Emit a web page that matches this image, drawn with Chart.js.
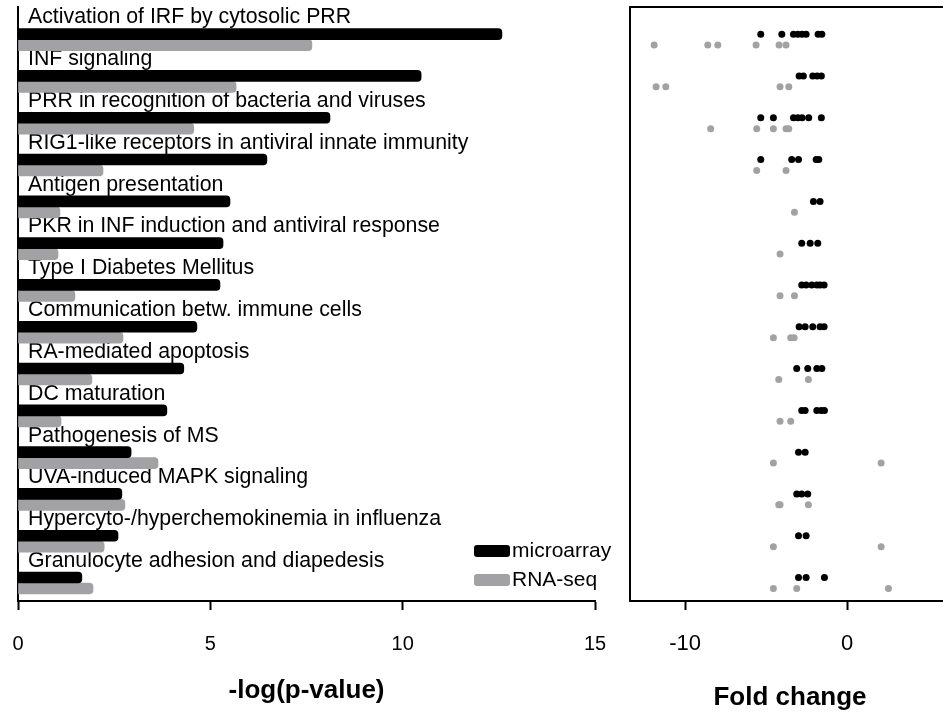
<!DOCTYPE html>
<html>
<head>
<meta charset="utf-8">
<script src="https://cdn.jsdelivr.net/npm/chart.js@4"></script>
<style>
html, body { margin: 0; padding: 0; background: #fff; overflow: hidden; }
#wrap { position: relative; width: 943px; height: 715px; overflow: hidden; }
#left { position: absolute; left: 0; top: 0; }
#right { position: absolute; left: 620px; top: 0; }
</style>
</head>
<body>
<div id="wrap">
  <canvas id="left" width="620" height="715"></canvas>
  <canvas id="right" width="340" height="715"></canvas>
</div>
<script>
const pathways = [
  'Activation of IRF by cytosolic PRR',
  'INF signaling',
  'PRR in recognition of bacteria and viruses',
  'RIG1-like receptors in antiviral innate immunity',
  'Antigen presentation',
  'PKR in INF induction and antiviral response',
  'Type I Diabetes Mellitus',
  'Communication betw. immune cells',
  'RA-mediated apoptosis',
  'DC maturation',
  'Pathogenesis of MS',
  'UVA-induced MAPK signaling',
  'Hypercyto-/hyperchemokinemia in influenza',
  'Granulocyte adhesion and diapedesis'
];

// -log(p-value) per pathway
const microarrayP = [12.58, 10.48, 8.11, 6.47, 5.51, 5.33, 5.25, 4.65, 4.31, 3.87, 2.94, 2.70, 2.60, 1.66];
const rnaseqP = [7.64, 5.67, 4.57, 2.21, 1.09, 1.04, 1.48, 2.73, 1.92, 1.12, 3.64, 2.78, 2.24, 1.95];

// fold change of the genes in each pathway
const microarrayFC = [
  [-5.33, -4.03, -3.31, -3.04, -2.78, -2.53, -1.79, -1.56],
  [-2.96, -2.70, -2.12, -1.85, -1.59],
  [-5.33, -4.55, -3.31, -3.04, -2.78, -2.37, -1.59],
  [-5.33, -3.42, -3.00, -1.91, -1.75],
  [-2.08, -1.67],
  [-2.80, -2.28, -1.81],
  [-2.80, -2.53, -2.18, -1.87, -1.67, -1.42],
  [-2.96, -2.59, -2.12, -1.67, -1.42],
  [-3.11, -2.43, -1.87, -1.56],
  [-2.80, -2.59, -1.87, -1.60, -1.40],
  [-3.00, -2.59],
  [-3.11, -2.80, -2.43],
  [-3.00, -2.53],
  [-3.00, -2.53, -1.40]
];
const rnaseqFC = [
  [-11.91, -8.60, -7.98, -5.62, -4.20, -3.77],
  [-11.79, -11.19, -4.14, -3.60],
  [-8.42, -5.58, -4.55, -3.77, -3.60],
  [-5.58, -3.77],
  [-3.25],
  [-4.14],
  [-4.14, -3.25],
  [-4.55, -3.48, -3.27],
  [-4.22, -2.39],
  [-4.14, -3.48],
  [-4.55, 2.10],
  [-4.22, -4.14, -2.39],
  [-4.55, 2.10],
  [-4.55, -3.11, 2.55]
];

const pTicks = [0, 5, 10, 15];
const fcTicks = [-10, 0];

const BLACK = '#000000';
const GREY = '#a2a2a4';
const FONT = "'Liberation Sans', Arial, Helvetica, sans-serif";
Chart.defaults.font.family = FONT;
Chart.defaults.color = BLACK;

// both panels share the same row scale
const rowMin = -0.78, rowMax = 13.43;
const dotShift = 0.13;

function noPad(s) {
  s.paddingLeft = 0; s.paddingRight = 0; s.paddingTop = 0; s.paddingBottom = 0;
}

const legendInside = {
  id: 'legendInside',
  afterDraw(chart) {
    const {ctx, chartArea} = chart;
    ctx.save();
    ctx.font = '21px ' + FONT;
    ctx.textBaseline = 'middle';
    chart.data.datasets.forEach((ds, i) => {
      const x = chartArea.right - 121;
      const y = chartArea.bottom - 50 + i * 29;
      ctx.fillStyle = ds.backgroundColor;
      ctx.beginPath();
      if (ctx.roundRect) ctx.roundRect(x, y - 6, 36, 12, 3);
      else ctx.rect(x, y - 6, 36, 12);
      ctx.fill();
      ctx.fillStyle = BLACK;
      ctx.fillText(ds.label, x + 38, y);
    });
    ctx.restore();
  }
};

new Chart(document.getElementById('left'), {
  type: 'bar',
  data: {
    datasets: [{
      label: 'microarray',
      data: microarrayP.map((v, i) => ({x: v, y: i})),
      backgroundColor: BLACK,
      barThickness: 11,
      borderRadius: 4,
      borderSkipped: 'start'
    }, {
      label: 'RNA-seq',
      data: rnaseqP.map((v, i) => ({x: v, y: i})),
      backgroundColor: GREY,
      barThickness: 11,
      borderRadius: 4,
      borderSkipped: 'start'
    }]
  },
  options: {
    indexAxis: 'y',
    responsive: false,
    animation: false,
    layout: {padding: {left: 18, right: 25, top: 7, bottom: 11}},
    plugins: {legend: {display: false}, tooltip: {enabled: false}},
    scales: {
      x: {
        type: 'linear', min: 0, max: 15,
        afterBuildTicks: s => { s.ticks = pTicks.map(v => ({value: v})); },
        afterFit: noPad,
        grid: {drawOnChartArea: false, tickLength: 9, tickWidth: 2, tickColor: BLACK},
        border: {color: BLACK, width: 2},
        ticks: {padding: 20, font: {size: 20, lineHeight: 1.4}, color: BLACK},
        title: {display: true, text: '-log(p-value)', font: {size: 26, weight: 'bold', lineHeight: 1}, color: BLACK, padding: {top: 0, bottom: 0}}
      },
      y: {
        type: 'linear', reverse: true, offset: false, min: rowMin, max: rowMax,
        afterBuildTicks: s => { s.ticks = pathways.map((p, i) => ({value: i})); },
        afterFit: s => { noPad(s); s.width = 0; },
        grid: {display: false, drawTicks: false, offset: false},
        border: {color: BLACK, width: 2},
        ticks: {mirror: true, padding: 10, labelOffset: -22, autoSkip: false, font: {size: 21.3}, color: BLACK,
          callback: v => pathways[v]}
      }
    }
  },
  plugins: [legendInside]
});

function dots(fc, shift) {
  const pts = [];
  fc.forEach((vals, i) => vals.forEach(v => pts.push({x: v, y: i + shift})));
  return pts;
}

new Chart(document.getElementById('right'), {
  type: 'scatter',
  data: {
    datasets: [{
      label: 'microarray',
      data: dots(microarrayFC, -dotShift),
      backgroundColor: BLACK,
      pointRadius: 3.5,
      pointBorderWidth: 0
    }, {
      label: 'RNA-seq',
      data: dots(rnaseqFC, dotShift),
      backgroundColor: GREY,
      pointRadius: 3.5,
      pointBorderWidth: 0
    }]
  },
  options: {
    responsive: false,
    animation: false,
    layout: {padding: {left: 10, right: 10, top: 7, bottom: 4}},
    plugins: {legend: {display: false}, tooltip: {enabled: false}},
    scales: {
      x: {
        type: 'linear', position: 'bottom', min: -13.4, max: 6.35,
        afterBuildTicks: s => { s.ticks = fcTicks.map(v => ({value: v})); },
        afterFit: noPad,
        grid: {drawOnChartArea: false, tickLength: 9, tickWidth: 2, tickColor: BLACK},
        border: {color: BLACK, width: 2},
        ticks: {padding: 21, font: {size: 22}, color: BLACK},
        title: {display: true, text: 'Fold change', font: {size: 26, weight: 'bold', lineHeight: 1}, color: BLACK, padding: {top: 6.6, bottom: 0}}
      },
      xTop: {
        type: 'linear', position: 'top', min: -13.4, max: 6.35,
        afterFit: noPad,
        grid: {display: false, drawTicks: false},
        border: {color: BLACK, width: 2},
        ticks: {display: false}
      },
      y: {
        type: 'linear', position: 'left', reverse: true, min: rowMin, max: rowMax,
        afterFit: noPad,
        grid: {display: false, drawTicks: false},
        border: {color: BLACK, width: 2},
        ticks: {display: false}
      }
    }
  }
});
</script>
</body>
</html>
